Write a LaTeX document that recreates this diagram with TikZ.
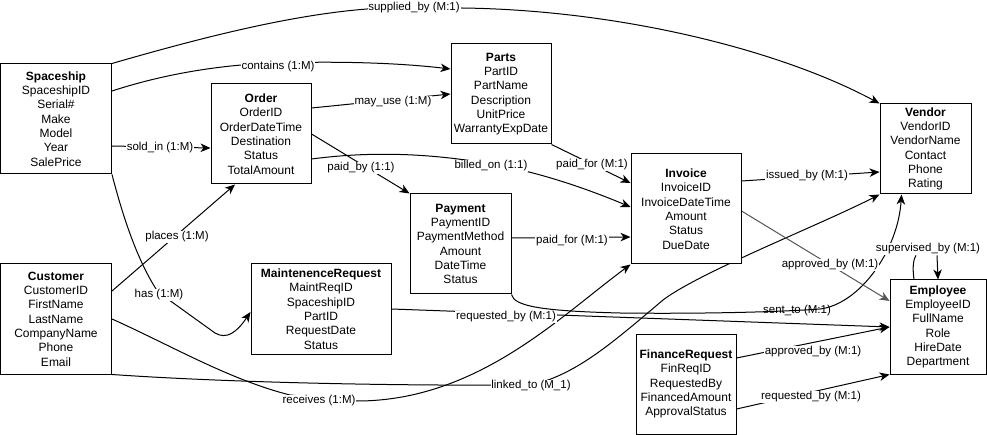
\documentclass[tikz,border=0pt]{standalone}
\usepackage{fontspec}
\setmainfont{Liberation Sans}
\usetikzlibrary{arrows.meta,calc}
\pgfdeclarelayer{bg}
\pgfsetlayers{bg,main}
\definecolor{greyline}{HTML}{555555}
\tikzset{
  ent/.style={draw, line width=1pt, fill=white, align=center, inner sep=0pt,
    font=\fontsize{12}{14.3}\selectfont},
  lbl/.style={fill=white, inner sep=0.8pt, font=\fontsize{11.5}{13}\selectfont},
  lblclear/.style={inner sep=0.8pt, font=\fontsize{11.5}{13}\selectfont},
  con/.style={line width=1pt, -{Stealth[length=10pt,width=8.5pt,inset=3pt]}},
  plainline/.style={line width=1pt},
}
\begin{document}
\begin{tikzpicture}[x=1pt,y=-1pt]
\useasboundingbox (0,0) rectangle (987,435);

% entities
\node[ent, minimum width=111pt, minimum height=110pt] (sp) at (56,119)
  {\textbf{Spaceship}\\SpaceshipID\\Serial\#\\Make\\Model\\Year\\SalePrice};
\node[ent, minimum width=100pt, minimum height=100pt] (ord) at (261,134)
  {\textbf{Order}\\OrderID\\OrderDateTime\\Destination\\Status\\TotalAmount};
\node[ent, minimum width=100pt, minimum height=100pt] (prt) at (501,94)
  {\textbf{Parts}\\PartID\\PartName\\Description\\UnitPrice\\WarrantyExpDate};
\node[ent, minimum width=91pt, minimum height=90pt] (vd) at (925.5,149)
  {\textbf{Vendor}\\VendorID\\VendorName\\Contact\\Phone\\Rating};
\node[ent, minimum width=110pt, minimum height=110pt] (inv) at (686,209)
  {\textbf{Invoice}\\InvoiceID\\InvoiceDateTime\\Amount\\Status\\DueDate};
\node[ent, minimum width=101pt, minimum height=100pt] (pay) at (460.5,244)
  {\textbf{Payment}\\PaymentID\\PaymentMethod\\Amount\\DateTime\\Status};
\node[ent, minimum width=111pt, minimum height=110pt] (cu) at (56,319)
  {\textbf{Customer}\\CustomerID\\FirstName\\LastName\\CompanyName\\Phone\\Email};
\node[ent, minimum width=140pt, minimum height=90pt] (mr) at (321,309)
  {\textbf{MaintenenceRequest}\\MaintReqID\\SpaceshipID\\PartID\\RequestDate\\Status};
\node[ent, minimum width=100pt, minimum height=100pt] (fr) at (686,384)
  {\textbf{FinanceRequest}\\FinReqID\\RequestedBy\\FinancedAmount\\ApprovalStatus};
\node[ent, minimum width=96pt, minimum height=94pt] (emp) at (938,327)
  {\textbf{Employee}\\EmployeeID\\FullName\\Role\\HireDate\\Department};

% labels
\node[lbl] (lsup) at (414,8) {supplied\_by (M:1)};
\node[lbl] (lcon) at (278,67) {contains (1:M)};
\node[lbl] (lsold) at (160,148) {sold\_in (1:M)};
\node[lbl] (lmay) at (393,102) {may\_use (1:M)};
\node[lbl] (lpby) at (361,168) {paid\_by (1:1)};
\node[lbl] (lbill) at (491,166) {billed\_on (1:1)};
\node[lbl] (lpf1) at (592,165) {paid\_for (M:1)};
\node[lbl] (liss) at (807,176) {issued\_by (M:1)};
\node[lbl] (lpf2) at (572,241) {paid\_for (M:1)};
\node[lbl] (lplc) at (177,237) {places (1:M)};
\node[lbl] (lhas) at (159,295) {has (1:M)};
\node[lbl] (lreq1) at (506,317) {requested\_by (M:1)};
\node[lblclear] (lsent) at (797,311) {sent\_to (M:1)};
\node[lbl] (lrcv) at (319,401) {receives (1:M)};
\node[lbl] (llnk) at (531,386) {linked\_to (M\_1)};
\node[lbl] (lapp1) at (830,265) {approved\_by (M:1)};
\node[lbl] (lsupv) at (928,249) {supervised\_by (M:1)};
\node[lbl] (lapp2) at (813,352) {approved\_by (M:1)};
\node[lbl] (lreq2) at (811,397) {requested\_by (M:1)};

\begin{pgfonlayer}{bg}
% Spaceship -> Vendor
\draw[con] (sp.north east) .. controls (200,38) and (290,15) .. (367,9) -- (462,8)
  .. controls (620,10) and (780,50) .. (vd.north west);
% Spaceship -> Parts
\draw[con] ([yshift=28pt]sp.east) .. controls (170,72) and (230,64) .. (278,63)
  .. controls (340,61) and (400,63) .. ([yshift=25pt]prt.west);
% Spaceship -> Order
\draw[con] ([yshift=-27pt]sp.east) -- ([yshift=-14pt]ord.west);
% Order -> Parts
\draw[con] ([yshift=26pt]ord.east) -- (prt.west);
% Order -> Payment
\draw[con] (ord.east) -- (pay.north west);
% Order -> Invoice
\draw[con] ([yshift=-25pt]ord.east) .. controls (380,150) and (440,155) .. (491,164)
  .. controls (540,172) and (590,190) .. ([yshift=2pt]inv.west);
% Parts -> Invoice
\draw[con] (prt.south east) -- ([yshift=26pt]inv.west);
% Invoice -> Vendor
\draw[con] ([yshift=28pt]inv.east) -- ([yshift=-23pt]vd.west);
% Payment -> Invoice
\draw[con] ([yshift=6pt]pay.east) -- ([yshift=-28pt]inv.west);
% Customer -> Order
\draw[con] ([yshift=28pt]cu.east) -- ([xshift=-26pt]ord.south);
% Spaceship -> MaintenenceRequest
\draw[con] (sp.south east) .. controls (125,225) and (140,265) .. (158,292) -- (215,333)
  .. controls (227,340) and (237,332) .. ([yshift=-3pt]mr.west);
% MaintenenceRequest -> Employee
\draw[con] (mr.east) -- (emp.west);
% Customer -> Invoice
\draw[con] (cu.east) .. controls (170,345) and (230,380) .. (290,395) -- (357,401)
  .. controls (477,401) and (560,316.5) .. (inv.south west);
% Customer -> Vendor
\draw[con] (cu.south east) .. controls (220,382) and (380,386) .. (531,385)
  .. controls (575,375) and (610,345) .. (663,300)
  .. controls (700,272) and (820,225) .. (vd.south west);
% Payment -> Vendor
\draw[con] (pay.south east) .. controls (514,306) and (540,311) .. (620,313)
  .. controls (700,314) and (780,312) .. (820,309)
  .. controls (860,304) and (898,250) .. ([xshift=22pt]vd.south west);
% Invoice -> Employee
\draw[con, draw=greyline] ([yshift=-2pt]inv.east) -- ([yshift=26pt]emp.west);
% Employee self loop
\draw[plainline] ([xshift=-24pt]emp.north) .. controls (912,266) and (914,258) .. ([xshift=-12pt]lsupv.south);
\draw[con] ([xshift=9pt]lsupv.south) -- (emp.north);
% FinanceRequest -> Employee
\draw[con] ([yshift=26pt]fr.east) -- (emp.west);
\draw[con] ([yshift=-25pt]fr.east) -- (emp.south west);
\end{pgfonlayer}
\end{tikzpicture}
\end{document}
